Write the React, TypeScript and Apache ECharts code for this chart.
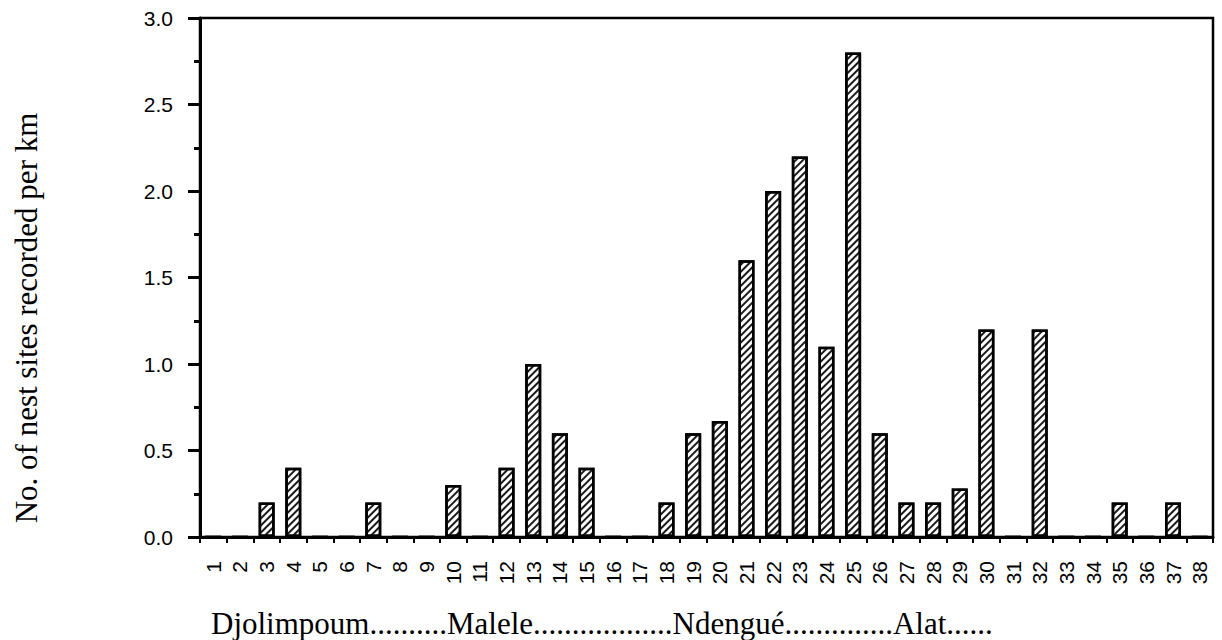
import React, { useEffect, useRef } from "react";
import * as echarts from "echarts";

const categories = [
  "1", "2", "3", "4", "5", "6", "7", "8", "9", "10",
  "11", "12", "13", "14", "15", "16", "17", "18", "19", "20",
  "21", "22", "23", "24", "25", "26", "27", "28", "29", "30",
  "31", "32", "33", "34", "35", "36", "37", "38",
];

const nestSitesPerKm = [
  0, 0, 0.2, 0.4, 0, 0, 0.2, 0, 0, 0.3,
  0, 0.4, 1.0, 0.6, 0.4, 0, 0, 0.2, 0.6, 0.67,
  1.6, 2.0, 2.2, 1.1, 2.8, 0.6, 0.2, 0.2, 0.28, 1.2,
  0, 1.2, 0, 0, 0.2, 0, 0.2, 0,
];

const yMin = 0;
const yMax = 3;
const yStep = 0.5;

const yAxisTitle = "No. of nest sites recorded per km";
const siteLabel =
  "Djolimpoum..........Malele..................Ndengué..............Alat......";

const sans = "'Liberation Sans', Arial, Helvetica, sans-serif";
const serif = "'Liberation Serif', 'Times New Roman', Times, serif";

export default function App() {
  const ref = useRef<HTMLDivElement>(null);

  useEffect(() => {
    if (!ref.current) return;
    const chart = echarts.init(ref.current, null, { renderer: "svg" });
    chart.setOption({
      animation: false,
      backgroundColor: "#ffffff",
      grid: {
        left: 200,
        right: 9,
        top: 18,
        bottom: 103,
        show: true,
        borderColor: "#000",
        borderWidth: 2.5,
        backgroundColor: "transparent",
        containLabel: false,
      },
      xAxis: {
        type: "category",
        data: categories,
        axisLine: { show: true, lineStyle: { color: "#000", width: 3 } },
        axisTick: { show: true, length: 6, lineStyle: { color: "#000", width: 2 } },
        axisLabel: {
          interval: 0,
          rotate: 90,
          fontSize: 21,
          fontFamily: sans,
          color: "#000",
          margin: 24,
        },
        splitLine: { show: false },
      },
      yAxis: {
        type: "value",
        min: yMin,
        max: yMax,
        interval: yStep,
        axisLine: { show: true, lineStyle: { color: "#000", width: 3 } },
        axisTick: { show: true, length: 12, lineStyle: { color: "#000", width: 3 } },
        minorTick: { show: true, splitNumber: 2, length: 6, lineStyle: { color: "#000", width: 3 } },
        splitLine: { show: false },
        axisLabel: {
          formatter: (v: number) => v.toFixed(1),
          fontSize: 21,
          fontFamily: sans,
          color: "#000",
          margin: 27,
        },
      },
      series: [
        {
          type: "bar",
          data: nestSitesPerKm,
          barWidth: 16,
          itemStyle: {
            color: "#ffffff",
            borderColor: "#000",
            borderWidth: 2.5,
            decal: {
              symbol: "rect",
              symbolSize: 1,
              color: "#1a1a1a",
              dashArrayX: [1, 0],
              dashArrayY: [1.4, 2.4],
              rotation: -Math.PI / 4,
            },
          },
        },
      ],
      graphic: [
        {
          type: "text",
          x: 26,
          y: 318,
          rotation: Math.PI / 2,
          style: {
            text: yAxisTitle,
            font: `31px ${serif}`,
            fill: "#000",
            textAlign: "center",
            textVerticalAlign: "middle",
          },
        },
        {
          type: "text",
          x: 211,
          y: 623,
          style: {
            text: siteLabel,
            font: `31px ${serif}`,
            fill: "#000",
            textAlign: "left",
            textVerticalAlign: "middle",
          },
        },
      ],
    });
    return () => chart.dispose();
  }, []);

  return (
    <div
      ref={ref}
      style={{ position: "fixed", left: 0, top: 0, width: 1222, height: 640 }}
    />
  );
}
